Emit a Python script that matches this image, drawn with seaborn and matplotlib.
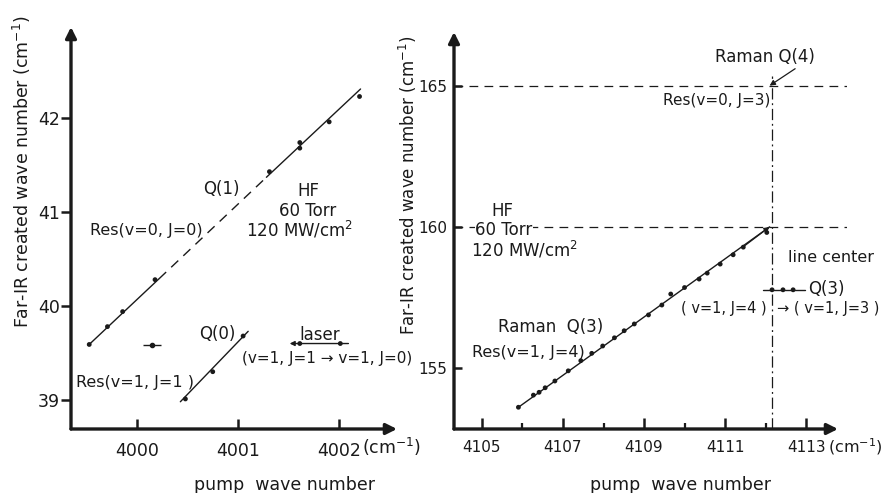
import matplotlib
matplotlib.use("Agg")
import matplotlib.pyplot as plt
import seaborn as sns
import pandas as pd

# ---- left panel: HF, pump near 4000 cm-1 ----
q1_x = [3999.53, 3999.71, 3999.86, 4000.18, 4001.31, 4001.61, 4001.61, 4001.90, 4002.20]
q1_y = [39.59, 39.78, 39.94, 40.28, 41.43, 41.74, 41.68, 41.96, 42.23]
q1_fit_x = [3999.52, 4000.22, 4001.28, 4002.21]
q1_fit_y = [39.58, 40.29, 41.37, 42.31]
q0_x = [4000.48, 4000.75, 4001.05]
q0_y = [39.01, 39.30, 39.68]
q0_fit_x = [4000.43, 4001.10]
q0_fit_y = [38.98, 39.73]
res11_x = [4000.15]
res11_y = [39.58]
res11_xerr = 0.085
laser_x = [4001.61, 4002.01]
laser_span = [4001.51, 4002.09]
laser_y = 39.60
left_xticks = [4000, 4001, 4002]
left_yticks = [39, 40, 41, 42]

# ---- right panel: Raman Q(3) scan ----
q3_x = [4105.90, 4106.27, 4106.41, 4106.56, 4106.80, 4107.13, 4107.44, 4107.71,
        4107.98, 4108.27, 4108.51, 4108.76, 4109.11, 4109.44, 4109.66, 4110.00,
        4110.36, 4110.56, 4110.88, 4111.20, 4111.45, 4112.03]
q3_y = [153.61, 154.04, 154.14, 154.30, 154.54, 154.90, 155.26, 155.52,
        155.78, 156.07, 156.32, 156.56, 156.88, 157.23, 157.62, 157.85,
        158.15, 158.36, 158.68, 159.01, 159.28, 159.80]
q3_fit_x = [4105.90, 4112.10]
q3_fit_y = [153.61, 160.00]
level_y = [165, 160]
line_center_x = 4112.15
q3_bar_x = [4112.16, 4112.43, 4112.68]
q3_bar_span = [4111.94, 4112.98]
q3_bar_y = 157.77
right_xticks = [4105, 4107, 4109, 4111, 4113]
right_minor = [4106, 4108, 4110, 4112]
right_yticks = [155, 160, 165]

sns.set_theme(style="white")
plt.rcParams["font.family"] = ["DejaVu Sans"]
plt.rcParams["mathtext.default"] = "regular"
plt.rcParams["text.color"] = "black"
plt.rcParams["xtick.color"] = "black"
plt.rcParams["ytick.color"] = "black"

W, H = 884, 493
fig = plt.figure(figsize=(W / 100, H / 100), dpi=100)


def fx(x):
    return x / W


def fy(y):
    return 1 - y / H


def ftext(x, y, s, size=11.5, **kw):
    kw.setdefault("ha", "center")
    kw.setdefault("va", "center")
    return fig.text(fx(x), fy(y), s, fontsize=size, color="k", **kw)


axL = fig.add_axes([fx(71), fy(429), (397 - 71) / W, (429 - 27) / H])
axR = fig.add_axes([fx(454), fy(429), (847 - 454) / W, (429 - 32) / H])

for ax in (axL, axR):
    ax.set_facecolor("white")
    for sp in ax.spines.values():
        sp.set_visible(False)

axL.set_xlim(3999.35, 4002.57)
axL.set_ylim(38.69, 42.97)
axR.set_xlim(4104.31, 4114.01)
axR.set_ylim(152.84, 166.90)


def axis_arrows(ax, xend=1.0):
    arr = dict(arrowstyle="-|>", lw=2.4, color="k", mutation_scale=16,
               shrinkA=0, shrinkB=0)
    ax.annotate("", xy=(0, 1), xytext=(0, 0), xycoords="axes fraction",
                textcoords="axes fraction", arrowprops=arr)
    ax.annotate("", xy=(xend, 0), xytext=(0, 0), xycoords="axes fraction",
                textcoords="axes fraction", arrowprops=arr)


axis_arrows(axL)
axis_arrows(axR, xend=(838 - 454) / (847 - 454))

line_kw = dict(color="k", lw=1.0, estimator=None, sort=False, legend=False)
dot_kw = dict(color="k", s=12, edgecolor="none", legend=False, zorder=3)

# left panel data
fitL = pd.DataFrame({"x": q1_fit_x, "y": q1_fit_y})
sns.lineplot(data=fitL.iloc[0:2], x="x", y="y", ax=axL, **line_kw)
sns.lineplot(data=fitL.iloc[1:3], x="x", y="y", ax=axL, dashes=False,
             linestyle=(0, (7, 5)), **line_kw)
sns.lineplot(data=fitL.iloc[2:4], x="x", y="y", ax=axL, **line_kw)
sns.scatterplot(x=q1_x, y=q1_y, ax=axL, **dot_kw)

sns.lineplot(x=q0_fit_x, y=q0_fit_y, ax=axL, **line_kw)
sns.scatterplot(x=q0_x, y=q0_y, ax=axL, **dot_kw)

axL.errorbar(res11_x, res11_y, xerr=res11_xerr, fmt="o", ms=3, color="k",
             lw=1.0, capsize=0)

axL.annotate("", xy=(laser_span[0], laser_y), xytext=(laser_span[1], laser_y),
             arrowprops=dict(arrowstyle="-|>", lw=1.0, color="k",
                             mutation_scale=7, shrinkA=0, shrinkB=0))
sns.scatterplot(x=laser_x, y=[laser_y] * len(laser_x), ax=axL, **dot_kw)

axL.set_xticks(left_xticks)
axL.set_xticklabels([str(v) for v in left_xticks])
axL.set_yticks(left_yticks)
axL.set_yticklabels([str(v) for v in left_yticks])
axL.tick_params(axis="x", direction="in", length=7, width=1.8, pad=9,
                labelsize=12.5, bottom=True, colors="k")
axL.tick_params(axis="y", direction="out", length=7, width=1.8, pad=1,
                labelsize=12.5, left=True, colors="k")
axL.set_xlabel("")
axL.set_ylabel("")

# right panel data
for yv in level_y:
    axR.axhline(yv, color="k", lw=0.9, linestyle=(0, (7, 5)))
axR.axvline(line_center_x, ymin=0, ymax=(165.35 - 152.84) / (166.90 - 152.84),
            color="k", lw=0.9, linestyle=(0, (9, 3, 1.5, 3)))
sns.lineplot(x=q3_fit_x, y=q3_fit_y, ax=axR, **line_kw)
sns.scatterplot(x=q3_x, y=q3_y, ax=axR, **dot_kw)

sns.lineplot(x=q3_bar_span, y=[q3_bar_y, q3_bar_y], ax=axR, **line_kw)
sns.scatterplot(x=q3_bar_x, y=[q3_bar_y] * len(q3_bar_x), ax=axR, **dot_kw)

axR.annotate("", xy=(q3_fit_x[-1], level_y[0]), xytext=(4112.73, 165.6),
             arrowprops=dict(arrowstyle="-|>", lw=0.9, color="k",
                             mutation_scale=8, shrinkA=0, shrinkB=0))
axR.annotate("", xy=(q3_fit_x[-1], q3_fit_y[-1]), xytext=(4111.42, 159.26),
             arrowprops=dict(arrowstyle="-|>", lw=0.9, color="k",
                             mutation_scale=8, shrinkA=0, shrinkB=0))

axR.set_xticks(right_xticks)
axR.set_xticklabels([str(v) for v in right_xticks])
axR.set_xticks(right_minor, minor=True)
axR.set_yticks(right_yticks)
axR.set_yticklabels([str(v) for v in right_yticks])
axR.tick_params(axis="x", which="major", direction="in", length=8, width=1.8,
                pad=8, labelsize=11, bottom=True, colors="k")
axR.tick_params(axis="x", which="minor", direction="in", length=4, width=1.6,
                bottom=True, colors="k")
axR.tick_params(axis="y", direction="in", length=6, width=1.8, pad=5,
                labelsize=11, left=True, colors="k")
axR.set_xlabel("")
axR.set_ylabel("")

# axis titles
ftext(22, 172, "Far-IR created wave number (cm$^{-1}$)", size=12.5, rotation=90)
ftext(408, 185, "Far-IR created wave number (cm$^{-1}$)", size=12, rotation=90)
ftext(285, 485, "pump  wave number", size=12.5)
ftext(680, 485, "pump  wave number", size=12.5)
ftext(362, 447, "(cm$^{-1}$)", size=12.5, ha="left")
ftext(828, 447, "(cm$^{-1}$)", size=11.5, ha="left")

# left panel labels
ftext(221, 189, "Q(1)", size=12)
ftext(308, 191, "HF", size=12)
ftext(308, 211, "60 Torr", size=12)
ftext(300, 230, "120 MW/cm$^{2}$", size=12)
ftext(146, 230, "Res(v=0, J=0)", size=11.5)
ftext(217, 334, "Q(0)", size=12)
ftext(320, 335, "laser", size=12)
ftext(327, 359, "(v=1, J=1 → v=1, J=0)", size=11)
ftext(135, 383, "Res(v=1, J=1 )", size=11.5)

# right panel labels
ftext(765, 57, "Raman Q(4)", size=12)
ftext(717, 101, "Res(v=0, J=3)", size=11)
ftext(502, 211, "HF", size=12)
ftext(504, 230, "60 Torr", size=12,
      bbox=dict(facecolor="white", edgecolor="none", pad=0.5))
ftext(525, 250, "120 MW/cm$^{2}$", size=12)
ftext(831, 257, "line center", size=11.5)
ftext(808, 289, "Q(3)", size=12, ha="left")
ftext(767, 308, "( v=1, J=4 )", size=10.5, ha="right")
ftext(777, 308, "→ ( v=1, J=3 )", size=10.5, ha="left")
ftext(551, 327, "Raman  Q(3)", size=12)
ftext(528, 353, "Res(v=1, J=4)", size=11.5)

fig.savefig("out.png", dpi=100, facecolor="white")
